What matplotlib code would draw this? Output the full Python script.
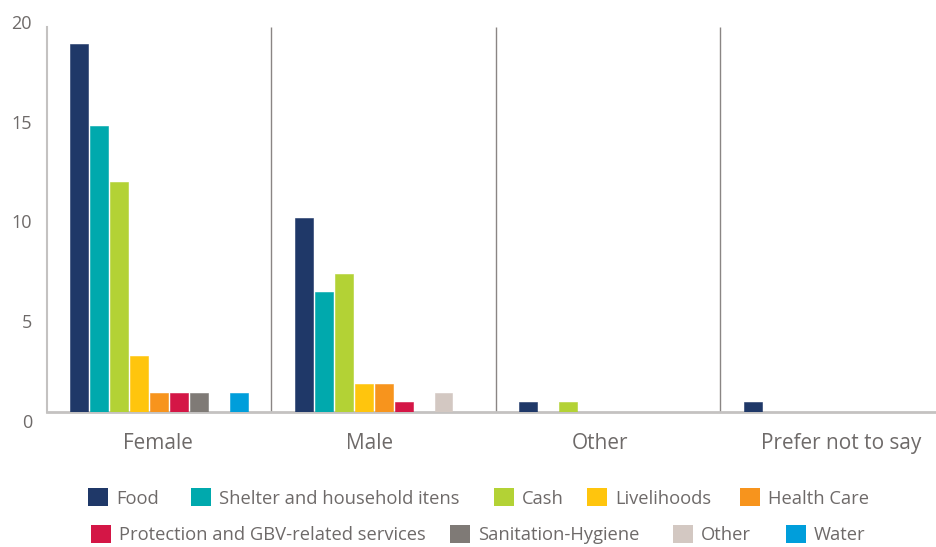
import matplotlib
matplotlib.use("Agg")
import matplotlib.pyplot as plt
import numpy as np
from matplotlib.patches import Patch
from matplotlib.transforms import ScaledTranslation
from matplotlib.textpath import TextPath
from matplotlib.font_manager import FontProperties

# ---- data ----
groups = ["Female", "Male", "Other", "Prefer not to say"]
series = ["Food", "Shelter and household itens", "Cash", "Livelihoods", "Health Care",
          "Protection and GBV-related services", "Sanitation-Hygiene", "Other", "Water"]
food        = [18.44, 9.71, 0.49, 0.49]
shelter     = [14.33, 6.00, 0.0, 0.0]
cash        = [11.52, 6.91, 0.49, 0.0]
livelihoods = [2.79, 1.39, 0.0, 0.0]
health      = [0.94, 1.39, 0.0, 0.0]
protection  = [0.94, 0.49, 0.0, 0.0]
sanitation  = [0.94, 0.0, 0.0, 0.0]
other       = [0.0, 0.94, 0.0, 0.0]
water       = [0.94, 0.0, 0.0, 0.0]
values = [food, shelter, cash, livelihoods, health, protection, sanitation, other, water]
colors = ["#1f3868", "#00a9ad", "#b3d235", "#ffc50d", "#f7941d",
          "#d41646", "#7f7a76", "#d3c8c2", "#009edb"]
yticks = [0, 5, 10, 15, 20]

FONT = ["Open Sans", "DejaVu Sans"]
TXT = "#6e6a69"
plt.rcParams["font.family"] = FONT


def fit_size(text, target_px):
    # font size (pt) so that the text is target_px wide at 100 dpi
    fp = FontProperties(family=FONT, size=10)
    w = TextPath((0, 0), text, prop=fp).get_extents().width  # in points at size 10
    return 10 * target_px / (w * 100 / 72)


W, H = 936, 547
fig = plt.figure(figsize=(W / 100, H / 100), dpi=100)
ax_l, ax_b, ax_t, ax_r = 46.7, 411.7, 12.9, 936
ax = fig.add_axes([ax_l / W, 1 - ax_b / H, (ax_r - ax_l) / W, (ax_b - ax_t) / H])

x = np.arange(len(groups))
slot = 0.089
bw = 0.080
n = len(series)
for i, (vals, c) in enumerate(zip(values, colors)):
    off = (i - (n - 1) / 2) * slot
    ax.bar(x + off, vals, width=bw, color=c, edgecolor=c, linewidth=0.4, zorder=3)

ax.set_xlim(-0.5, 3.46)
ax.set_ylim(0, 20)
top_line = 19.31
for sep in x[1:] - 0.5:
    ax.plot([sep, sep], [0, top_line], color="#8a8584", lw=1.0, zorder=2, solid_capstyle="butt")

for s in ["top", "right"]:
    ax.spines[s].set_visible(False)
ax.spines["left"].set_color("#c4c2c1")
ax.spines["left"].set_linewidth(1.5)
ax.spines["left"].set_bounds(0, top_line)
ax.spines["bottom"].set_color("#c4c2c1")
ax.spines["bottom"].set_linewidth(2.0)

xsz = fit_size("Prefer not to say", 158)
ax.set_yticks(yticks)
ax.set_yticklabels([str(v) for v in yticks])
ax.set_xticks(x)
ax.set_xticklabels(groups)
ax.tick_params(axis="y", length=0, pad=10.5, labelsize=13, labelcolor=TXT)
ax.tick_params(axis="x", length=0, pad=15, labelsize=xsz, labelcolor=TXT)
yoff = ScaledTranslation(0, -9 / 100, fig.dpi_scale_trans)
for lab in ax.get_yticklabels():
    lab.set_transform(lab.get_transform() + yoff)
# the category labels sit slightly off the group centres in the reference
xshift_px = [-1, -14, -8, 8]
for lab, dx in zip(ax.get_xticklabels(), xshift_px):
    lab.set_transform(lab.get_transform() + ScaledTranslation(dx / 100, 0, fig.dpi_scale_trans))

# legend: two rows, each entry anchored at its patch's left edge
leg_x = [88, 191, 494, 587, 740, 91, 450, 673, 786]
leg_y = [498, 498, 498, 498, 498, 534.5, 534.5, 534.5, 534.5]
fs = fit_size("Protection and GBV-related services", 305)
fpx = fs * 100 / 72
for name, c, lx, ly in zip(series, colors, leg_x, leg_y):
    fig.legend(handles=[Patch(facecolor=c, edgecolor="none")], labels=[name],
               loc="center left", bbox_to_anchor=(lx / W, 1 - ly / H),
               frameon=False, borderpad=0, borderaxespad=0,
               handlelength=20 / fpx, handleheight=20 / fpx,
               handletextpad=8 / fpx, fontsize=fs, labelcolor=TXT)

fig.savefig("out.png", dpi=100)
